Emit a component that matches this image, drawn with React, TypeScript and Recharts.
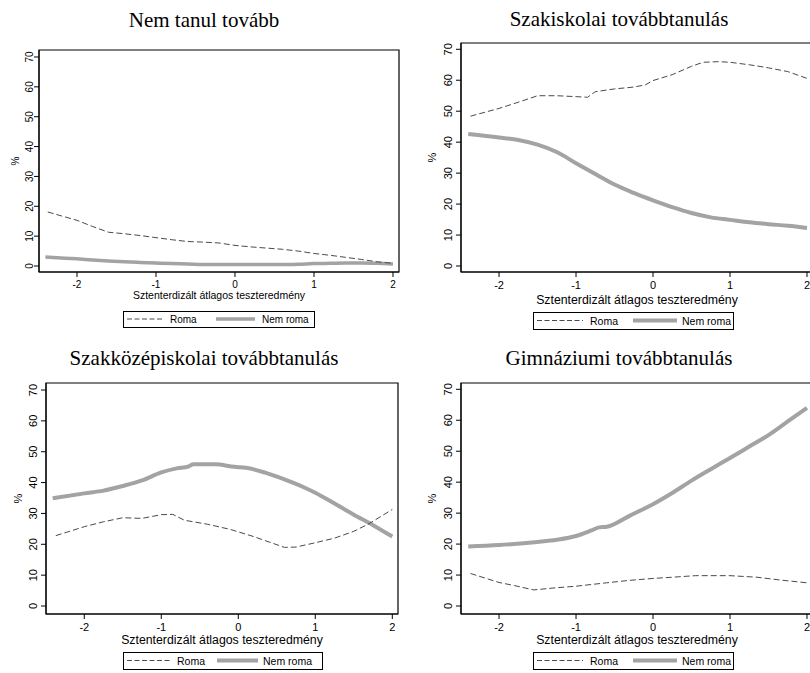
import React from 'react';
import { LineChart, Line, XAxis, YAxis, ReferenceArea, Label } from 'recharts';

const xTicks = [-2, -1, 0, 1, 2];
const yTicks = [0, 10, 20, 30, 40, 50, 60, 70];
const xAxisTitle = 'Sztenterdizált átlagos teszteredmény';
const yAxisTitle = '%';
const seriesNames = ['Roma', 'Nem roma'];
const panelTitles = [
  'Nem tanul tovább',
  'Szakiskolai továbbtanulás',
  'Szakközépiskolai továbbtanulás',
  'Gimnáziumi továbbtanulás',
];

// Panel 1: Nem tanul tovább
const p1RomaX = [-2.37, -2.2, -2.0, -1.8, -1.6, -1.4, -1.2, -1.0, -0.8, -0.6, -0.4, -0.2, 0.0, 0.2, 0.4, 0.6, 0.8, 1.0, 1.2, 1.4, 1.6, 1.8, 2.0];
const p1RomaY = [18.1, 16.8, 15.3, 13.2, 11.3, 10.8, 10.2, 9.5, 8.8, 8.2, 8.0, 7.7, 6.9, 6.4, 6.0, 5.6, 5.0, 4.2, 3.6, 2.9, 2.2, 1.4, 0.9];
const p1NemX = [-2.4, -2.2, -2.0, -1.8, -1.6, -1.4, -1.2, -1.0, -0.8, -0.6, -0.4, -0.2, 0.0, 0.2, 0.4, 0.6, 0.8, 1.0, 1.2, 1.4, 1.6, 1.8, 2.0];
const p1NemY = [3.0, 2.7, 2.4, 2.0, 1.7, 1.4, 1.2, 1.0, 0.8, 0.7, 0.5, 0.5, 0.5, 0.5, 0.5, 0.5, 0.6, 0.8, 0.9, 1.0, 1.0, 0.9, 0.7];

// Panel 2: Szakiskolai továbbtanulás
const p2RomaX = [-2.37, -2.0, -1.75, -1.5, -1.25, -1.0, -0.85, -0.75, -0.5, -0.25, -0.1, 0.0, 0.25, 0.5, 0.65, 0.85, 1.0, 1.25, 1.5, 1.75, 2.0];
const p2RomaY = [48.4, 50.9, 52.9, 55.0, 55.0, 54.7, 54.5, 56.3, 57.2, 57.8, 58.5, 59.9, 61.8, 64.5, 65.8, 66.0, 65.8, 65.0, 64.0, 62.8, 60.6];
const p2NemX = [-2.4, -2.0, -1.75, -1.5, -1.25, -1.0, -0.75, -0.5, -0.25, 0.0, 0.25, 0.5, 0.75, 1.0, 1.25, 1.5, 1.75, 2.0];
const p2NemY = [42.6, 41.5, 40.7, 39.2, 36.8, 33.2, 29.7, 26.3, 23.6, 21.2, 19.0, 17.1, 15.7, 14.9, 14.1, 13.5, 13.0, 12.3];

// Panel 3: Szakközépiskolai továbbtanulás
const p3RomaX = [-2.37, -2.0, -1.75, -1.5, -1.25, -1.0, -0.85, -0.7, -0.4, -0.1, 0.2, 0.45, 0.6, 0.75, 1.0, 1.25, 1.5, 1.7, 2.0];
const p3RomaY = [22.8, 25.7, 27.3, 28.6, 28.4, 29.6, 29.7, 27.8, 26.5, 24.8, 22.5, 20.3, 19.0, 19.1, 20.5, 22.0, 24.2, 26.7, 31.3];
const p3NemX = [-2.41, -2.0, -1.75, -1.5, -1.25, -1.0, -0.8, -0.65, -0.58, -0.3, -0.05, 0.1, 0.35, 0.6, 0.85, 1.0, 1.25, 1.5, 1.75, 2.0];
const p3NemY = [34.9, 36.5, 37.4, 38.9, 40.7, 43.3, 44.6, 45.2, 45.9, 45.9, 45.1, 44.8, 43.2, 41.0, 38.5, 36.7, 33.2, 29.6, 26.2, 22.5];

// Panel 4: Gimnáziumi továbbtanulás
const p4RomaX = [-2.37, -2.0, -1.8, -1.55, -1.3, -1.0, -0.6, -0.3, 0.0, 0.25, 0.55, 1.0, 1.35, 1.65, 2.0];
const p4RomaY = [10.5, 7.6, 6.6, 5.2, 5.8, 6.4, 7.5, 8.3, 8.9, 9.3, 9.8, 9.8, 9.3, 8.4, 7.5];
const p4NemX = [-2.4, -2.0, -1.5, -1.25, -1.0, -0.8, -0.7, -0.6, -0.3, 0.0, 0.25, 0.5, 0.75, 1.0, 1.25, 1.5, 1.75, 2.0];
const p4NemY = [19.2, 19.7, 20.7, 21.4, 22.6, 24.4, 25.4, 25.6, 29.2, 32.9, 36.5, 40.5, 44.2, 47.8, 51.5, 55.2, 59.6, 64.0];

const zip = (xs: number[], ys: number[]) => xs.map((x, i) => ({ x, y: ys[i] }));

const SANS = '"Liberation Sans", Arial, sans-serif';
const SERIF = '"Liberation Serif", "Times New Roman", serif';
const ROMA_COLOR = '#4a4a4a';
const NEM_COLOR = '#a3a3a3';

type Geo = {
  left: number; top: number; w: number; h: number;
  xDom: [number, number]; yDom: [number, number];
  tickFs: number; labelFs: number; yTickOff: number; pctOff: number;
  xTickOff: number; xLabelOff: number; nemWidth: number;
  titleX: number; titleY: number;
  legend: { x: number; y: number; w: number; h: number; fs: number; d0: number; d1: number; t1: number; s0: number; s1: number; t2: number };
};

const geos: Geo[] = [
  {
    left: 39, top: 50, w: 360, h: 222, xDom: [-2.481, 2.076], yDom: [-2.01, 72.34],
    tickFs: 10, labelFs: 10.5, yTickOff: 10, pctOff: 24, xTickOff: 12, xLabelOff: 23, nemWidth: 3.5,
    titleX: 204, titleY: 27,
    legend: { x: 123, y: 311, w: 191, h: 16, fs: 10, d0: 4, d1: 40, t1: 47, s0: 93, s1: 132, t2: 139 },
  },
  {
    left: 461, top: 43, w: 352, h: 229, xDom: [-2.494, 2.078], yDom: [-1.94, 72.03],
    tickFs: 11, labelFs: 12.3, yTickOff: 13, pctOff: 29, xTickOff: 13, xLabelOff: 28, nemWidth: 4,
    titleX: 619, titleY: 26,
    legend: { x: 533, y: 312, w: 200, h: 17, fs: 10.5, d0: 4, d1: 50, t1: 57, s0: 100, s1: 144, t2: 149 },
  },
  {
    left: 46, top: 383, w: 352, h: 231, xDom: [-2.497, 2.074], yDom: [-2.59, 72.27],
    tickFs: 11, labelFs: 12.3, yTickOff: 13, pctOff: 28, xTickOff: 13, xLabelOff: 26, nemWidth: 4,
    titleX: 204, titleY: 365,
    legend: { x: 123, y: 652, w: 199, h: 17, fs: 10.5, d0: 4, d1: 47, t1: 54, s0: 94, s1: 135, t2: 140 },
  },
  {
    left: 461, top: 383, w: 352, h: 231, xDom: [-2.494, 2.078], yDom: [-2.58, 72.03],
    tickFs: 11, labelFs: 12.3, yTickOff: 13, pctOff: 29, xTickOff: 13, xLabelOff: 26, nemWidth: 4,
    titleX: 619, titleY: 365,
    legend: { x: 533, y: 652, w: 200, h: 17, fs: 10.5, d0: 4, d1: 50, t1: 57, s0: 100, s1: 144, t2: 149 },
  },
];

const panelData = [
  { roma: zip(p1RomaX, p1RomaY), nem: zip(p1NemX, p1NemY) },
  { roma: zip(p2RomaX, p2RomaY), nem: zip(p2NemX, p2NemY) },
  { roma: zip(p3RomaX, p3RomaY), nem: zip(p3NemX, p3NemY) },
  { roma: zip(p4RomaX, p4RomaY), nem: zip(p4NemX, p4NemY) },
];

const YW = 40;
const MT = 10;
const MR = 10;
const XH = 60;

function Panel({ g, d }: { g: Geo; d: { roma: any[]; nem: any[] } }) {
  const W = YW + g.w + MR;
  const H = MT + g.h + XH;
  const axisY = MT + g.h;
  return (
    <div style={{ position: 'absolute', left: g.left - YW, top: g.top - MT, width: W, height: H }}>
      <LineChart width={W} height={H} margin={{ top: MT, right: MR, bottom: 0, left: 0 }}>
        <XAxis
          type="number"
          dataKey="x"
          domain={g.xDom}
          ticks={xTicks}
          allowDataOverflow
          height={XH}
          stroke="#000"
          tickSize={5}
          interval={0}
          tick={(p: any) => (
            <text x={p.x} y={axisY + g.xTickOff} textAnchor="middle" dominantBaseline="central"
              fontSize={g.tickFs} fontFamily={SANS} fill="#000">{p.payload.value}</text>
          )}
        >
          <Label
            content={() => (
              <text x={YW + g.w / 2} y={axisY + g.xLabelOff} textAnchor="middle" dominantBaseline="central"
                fontSize={g.labelFs} fontFamily={SANS} fill="#000">{xAxisTitle}</text>
            )}
          />
        </XAxis>
        <YAxis
          type="number"
          dataKey="y"
          domain={g.yDom}
          ticks={yTicks}
          allowDataOverflow
          width={YW}
          stroke="#000"
          tickSize={5}
          interval={0}
          tick={(p: any) => (
            <g transform={`translate(${YW - g.yTickOff},${p.y}) rotate(-90)`}>
              <text x={0} y={0} textAnchor="middle" dominantBaseline="central"
                fontSize={g.tickFs} fontFamily={SANS} fill="#000">{p.payload.value}</text>
            </g>
          )}
        >
          <Label
            content={() => (
              <g transform={`translate(${YW - g.pctOff},${MT + g.h / 2}) rotate(-90)`}>
                <text x={0} y={0} textAnchor="middle" dominantBaseline="central"
                  fontSize={g.tickFs} fontFamily={SANS} fill="#000">{yAxisTitle}</text>
              </g>
            )}
          />
        </YAxis>
        <ReferenceArea x1={g.xDom[0]} x2={g.xDom[1]} y1={g.yDom[0]} y2={g.yDom[1]}
          fill="none" stroke="#000" strokeWidth={1.2} ifOverflow="visible" />
        <Line data={d.nem} dataKey="y" name={seriesNames[1]} type="monotone" stroke={NEM_COLOR}
          strokeWidth={g.nemWidth} dot={false} isAnimationActive={false} />
        <Line data={d.roma} dataKey="y" name={seriesNames[0]} type="linear" stroke={ROMA_COLOR}
          strokeWidth={1} strokeDasharray="6 3" dot={false} isAnimationActive={false} />
      </LineChart>
    </div>
  );
}

function Overlay() {
  return (
    <svg width={810} height={673} style={{ position: 'absolute', left: 0, top: 0, pointerEvents: 'none' }}>
      {geos.map((g, i) => {
        const L = g.legend;
        const cy = L.y + L.h / 2;
        return (
          <g key={i}>
            <text x={g.titleX} y={g.titleY} textAnchor="middle" fontSize={21} fontFamily={SERIF} fill="#000">
              {panelTitles[i]}
            </text>
            <rect x={L.x + 0.5} y={L.y + 0.5} width={L.w} height={L.h} fill="#fff" stroke="#000" strokeWidth={1} />
            <line x1={L.x + L.d0} x2={L.x + L.d1} y1={cy} y2={cy} stroke={ROMA_COLOR} strokeWidth={1} strokeDasharray="5 2.5" />
            <text x={L.x + L.t1} y={cy} dominantBaseline="central" fontSize={L.fs} fontFamily={SANS} fill="#000">{seriesNames[0]}</text>
            <line x1={L.x + L.s0} x2={L.x + L.s1} y1={cy} y2={cy} stroke={NEM_COLOR} strokeWidth={g.nemWidth} />
            <text x={L.x + L.t2} y={cy} dominantBaseline="central" fontSize={L.fs} fontFamily={SANS} fill="#000">{seriesNames[1]}</text>
          </g>
        );
      })}
    </svg>
  );
}

export default function App() {
  return (
    <div style={{ position: 'absolute', left: 0, top: 0, width: 810, height: 673, overflow: 'hidden', background: '#fff' }}>
      {geos.map((g, i) => (
        <Panel key={i} g={g} d={panelData[i]} />
      ))}
      <Overlay />
    </div>
  );
}
